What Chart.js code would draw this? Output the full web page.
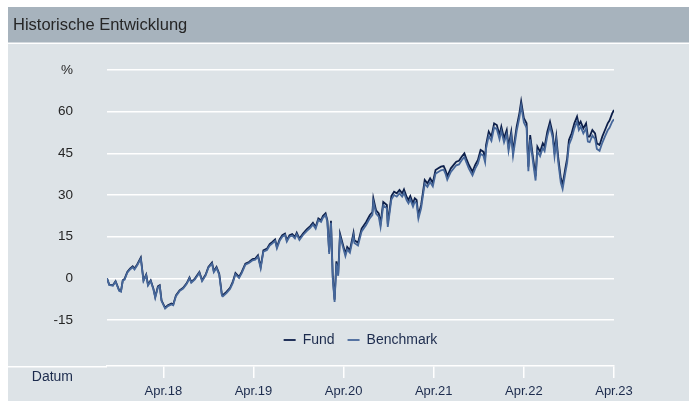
<!DOCTYPE html>
<html><head><meta charset="utf-8">
<script src="https://cdn.jsdelivr.net/npm/chart.js@4"></script>
<style>html,body{margin:0;padding:0;background:#fff;} canvas{display:block;}</style>
</head><body>
<canvas id="c" width="689" height="401" style="width:689px;height:401px"></canvas>
<script>
const chartTitle = 'Historische Entwicklung';
const xAxisLabel = 'Datum';
const seriesNames = ['Fund', 'Benchmark'];
const yUnitLabel = '%';
const yTicks = [-15, 0, 15, 30, 45, 60, 75];
const tickYears = [2018.25, 2019.25, 2020.25, 2021.25, 2022.25, 2023.25];
const tickLabels = ['Apr.18', 'Apr.19', 'Apr.20', 'Apr.21', 'Apr.22', 'Apr.23'];

// time as decimal years
const dates = [
2017.625,2017.65,2017.69,2017.72,2017.76,2017.78,2017.80,2017.82,2017.85,2017.88,
2017.91,2017.93,2017.96,2018.00,2018.03,2018.06,2018.08,2018.11,2018.14,2018.16,
2018.19,2018.21,2018.23,2018.27,2018.30,2018.34,2018.36,2018.39,2018.43,2018.47,
2018.51,2018.54,2018.56,2018.60,2018.65,2018.68,2018.72,2018.75,2018.79,2018.81,
2018.84,2018.87,2018.90,2018.91,2018.95,2018.99,2019.02,2019.05,2019.09,2019.12,
2019.16,2019.20,2019.24,2019.27,2019.30,2019.33,2019.36,2019.40,2019.43,2019.46,
2019.49,2019.51,2019.54,2019.57,2019.60,2019.62,2019.65,2019.68,2019.71,2019.73,
2019.76,2019.80,2019.84,2019.88,2019.91,2019.94,2019.97,2020.00,2020.02,2020.05,
2020.07,2020.09,2020.11,2020.13,2020.15,2020.17,2020.19,2020.21,2020.24,2020.27,
2020.29,2020.32,2020.36,2020.37,2020.41,2020.45,2020.50,2020.54,2020.57,2020.58,
2020.61,2020.64,2020.66,2020.69,2020.73,2020.74,2020.78,2020.81,2020.84,2020.87,
2020.90,2020.92,2020.95,2020.97,2020.99,2021.02,2021.04,2021.06,2021.08,2021.11,
2021.15,2021.18,2021.21,2021.24,2021.27,2021.30,2021.33,2021.36,2021.38,2021.40,
2021.44,2021.48,2021.50,2021.53,2021.56,2021.59,2021.61,2021.64,2021.68,2021.71,
2021.74,2021.77,2021.80,2021.82,2021.83,2021.86,2021.89,2021.92,2021.95,2021.98,
2022.00,2022.03,2022.06,2022.08,2022.11,2022.13,2022.17,2022.20,2022.22,2022.25,
2022.28,2022.30,2022.32,2022.35,2022.38,2022.40,2022.43,2022.46,2022.48,2022.51,
2022.54,2022.57,2022.59,2022.61,2022.63,2022.66,2022.68,2022.71,2022.73,2022.75,
2022.78,2022.81,2022.84,2022.86,2022.88,2022.91,2022.94,2022.96,2022.98,2023.01,
2023.04,2023.06,2023.09,2023.12,2023.15,2023.18,2023.20,2023.23,2023.25
];
const fund = [
0.0,-2.3,-2.5,-1.0,-4.3,-4.6,-0.7,-0.2,2.3,3.5,
4.3,3.5,5.0,7.5,-0.7,1.4,-2.3,-0.7,-3.7,-6.7,
-2.9,-2.5,-7.9,-10.6,-9.7,-9.1,-9.4,-6.1,-4.3,-3.4,
-1.7,0.3,-1.3,-0.1,2.3,-0.7,1.4,4.1,5.7,2.6,
4.1,1.7,-5.9,-6.1,-4.9,-3.4,-1.3,1.9,0.5,2.3,
5.3,5.9,6.9,7.1,8.3,4.1,10.1,10.7,12.3,13.1,
14.0,11.3,14.0,15.5,16.1,13.7,15.5,15.9,14.9,16.4,
14.3,16.1,17.6,18.8,20.0,18.5,21.6,20.9,22.4,23.4,
20.9,9.5,20.7,0.5,-7.7,6.1,1.7,16.1,12.5,8.9,
11.3,10.1,16.4,13.7,12.8,17.9,20.3,22.7,23.9,28.8,
24.5,23.4,19.7,27.5,26.4,19.7,29.6,31.2,30.6,31.8,
30.6,32.0,29.3,28.2,29.6,27.0,28.8,28.2,22.7,26.4,
35.4,34.2,36.0,34.4,39.0,39.6,40.2,40.4,39.0,36.8,
39.6,41.2,42.0,42.3,43.8,45.0,43.2,40.8,38.4,40.8,
42.6,46.2,45.6,43.2,48.0,52.8,51.0,55.8,55.2,51.6,
54.6,50.4,53.4,47.4,52.8,45.6,54.6,59.4,63.7,57.7,
55.8,40.2,51.6,43.8,36.8,47.4,45.6,48.6,47.4,52.8,
56.4,52.2,45.6,51.0,43.8,36.0,33.8,39.6,43.2,49.8,
52.2,55.8,58.2,55.2,56.4,54.0,55.8,51.0,51.0,53.4,
52.2,48.6,48.0,51.0,53.4,55.8,56.8,59.4,60.6
];
const benchmark = [
0.0,-2.4,-2.7,-1.2,-4.5,-4.8,-0.9,-0.5,2.0,3.2,
4.0,3.2,4.7,7.1,-1.0,1.1,-2.6,-1.0,-4.0,-7.0,
-3.2,-2.8,-8.2,-10.9,-10.0,-9.4,-9.7,-6.4,-4.6,-3.7,
-2.0,0.0,-1.6,-0.4,2.0,-1.0,1.1,3.8,5.3,2.2,
3.7,1.3,-6.3,-6.5,-5.3,-3.8,-1.7,1.5,0.1,1.9,
4.9,5.5,6.5,6.7,7.8,3.6,9.6,10.2,11.8,12.6,
13.5,10.8,13.5,15.0,15.6,13.2,15.0,15.4,14.4,15.9,
13.8,15.6,17.0,18.2,19.4,17.9,21.0,20.3,21.8,22.8,
20.3,8.8,20.0,-0.3,-8.5,5.3,0.9,15.2,11.6,8.0,
10.4,9.2,15.4,12.7,11.8,16.9,19.2,21.6,22.8,27.6,
23.3,22.2,18.5,26.3,25.2,18.5,28.4,30.0,29.4,30.6,
29.4,30.8,28.1,27.0,28.4,25.8,27.6,27.0,21.5,25.2,
34.1,32.9,34.7,33.1,37.7,38.3,38.9,39.1,37.7,35.5,
38.3,39.9,40.7,41.0,42.5,43.7,41.9,39.5,37.1,39.5,
41.3,44.8,44.2,41.8,46.6,51.3,49.5,54.3,53.7,50.1,
53.1,48.9,51.9,45.9,51.3,44.1,53.0,57.8,62.1,56.1,
54.2,38.6,50.0,42.2,35.2,45.8,44.0,47.0,45.8,51.2,
54.8,50.6,44.0,49.4,42.2,34.4,32.2,38.0,41.6,48.0,
50.4,54.0,56.4,53.4,54.6,52.2,54.0,49.2,49.0,51.4,
50.2,46.6,45.9,48.8,51.1,53.3,54.2,56.4,57.3
];

const FONT = '"Liberation Sans", Arial, Helvetica, sans-serif';
Chart.defaults.font.family = FONT;

const panelPlugin = {
  id: 'panel',
  beforeLayout(chart) {
    const lg = chart.legend;
    if (lg && !lg._fixedFit) {
      const f = lg.fit;
      lg.fit = function () { f.call(this); this.height = 46; };
      lg._fixedFit = true;
    }
  },
  beforeDraw(chart) {
    const ctx = chart.ctx;
    ctx.save();
    ctx.fillStyle = '#ffffff';
    ctx.fillRect(0, 0, 689, 401);
    ctx.fillStyle = '#a7b3bd';
    ctx.fillRect(8, 7, 681, 35.5);
    ctx.fillStyle = '#dde3e7';
    ctx.fillRect(8, 44, 681, 357);
    ctx.fillStyle = '#262626';
    ctx.font = '16.5px ' + FONT;
    ctx.textBaseline = 'middle';
    ctx.textAlign = 'left';
    ctx.fillText(chartTitle, 13, 25);
    ctx.restore();
  },
  afterDraw(chart) {
    const ctx = chart.ctx;
    const xs = chart.scales.x;
    ctx.save();
    ctx.strokeStyle = '#ffffff';
    ctx.lineWidth = 1.5;
    ctx.beginPath();
    ctx.moveTo(8, xs.top + 0.75);
    ctx.lineTo(xs.left, xs.top + 0.75);
    ctx.stroke();
    ctx.fillStyle = '#1c2b4d';
    ctx.font = '14px ' + FONT;
    ctx.textAlign = 'right';
    ctx.textBaseline = 'middle';
    ctx.fillText(xAxisLabel, 73, 377);
    ctx.restore();
  }
};

new Chart(document.getElementById('c'), {
  type: 'line',
  data: {
    datasets: [
      { label: seriesNames[0], data: dates.map((d, i) => ({x: d, y: fund[i]})),
        borderColor: '#0d1f4a', backgroundColor: '#0d1f4a', borderWidth: 1.8,
        pointRadius: 0, tension: 0, fill: false, order: 1 },
      { label: seriesNames[1], data: dates.map((d, i) => ({x: d, y: benchmark[i]})),
        borderColor: '#46679a', backgroundColor: '#46679a', borderWidth: 1.8,
        pointRadius: 0, tension: 0, fill: false, order: 0 }
    ]
  },
  options: {
    responsive: false,
    animation: false,
    devicePixelRatio: 1,
    layout: { padding: { left: 8, top: 70, right: 75, bottom: 0 } },
    plugins: {
      legend: {
        position: 'bottom', fullSize: false, weight: -10,
        labels: { usePointStyle: true, pointStyle: 'line', pointStyleWidth: 12,
          padding: 13, color: '#1c2b4d', font: { size: 14 },
          sort: (a, b) => a.datasetIndex - b.datasetIndex }
      },
      tooltip: { enabled: false }
    },
    scales: {
      x: {
        type: 'linear', min: dates[0], max: dates[dates.length - 1],
        afterBuildTicks(s) { s.ticks = tickYears.map(v => ({ value: v })); },
        afterFit(s) { s.height = 35; },
        grid: { drawOnChartArea: false, drawTicks: true, tickLength: 12, color: '#ffffff', lineWidth: 1.5 },
        border: { display: true, color: '#ffffff', width: 1.5 },
        ticks: { autoSkip: false, maxRotation: 0, padding: 6, color: '#1c2b4d', font: { size: 13 },
          callback(v) { const i = tickYears.indexOf(v); return i >= 0 ? tickLabels[i] : ''; } }
      },
      y: {
        min: -15, max: 75,
        afterBuildTicks(s) { s.ticks = yTicks.map(v => ({ value: v })); },
        afterFit(s) { s.width = 99; },
        grid: { color: '#ffffff', lineWidth: 1.5, drawTicks: false },
        border: { display: false },
        ticks: { padding: 34, color: '#262626', font: { size: 13.5 },
          callback(v) { return v === 75 ? yUnitLabel : String(v); } }
      }
    }
  },
  plugins: [panelPlugin]
});
</script>
</body></html>
